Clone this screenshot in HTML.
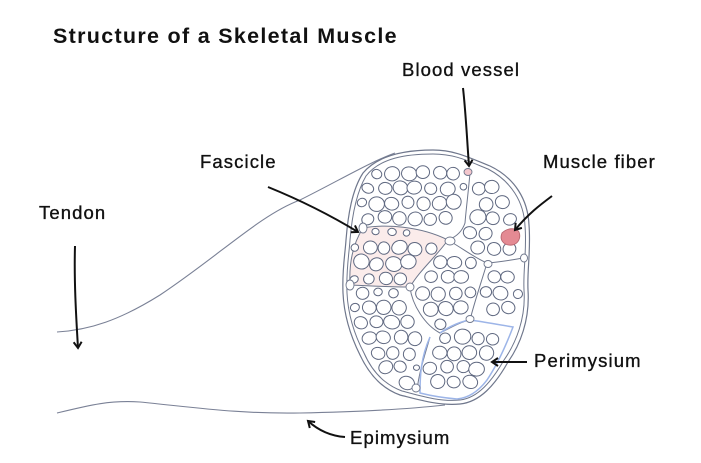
<!DOCTYPE html>
<html><head><meta charset="utf-8"><style>
html,body{margin:0;padding:0;background:#fff;width:701px;height:463px;overflow:hidden}
svg{display:block}
text{font-family:"Liberation Sans",sans-serif;fill:#111}
.l{font-size:18.5px;letter-spacing:1.1px;stroke:#111;stroke-width:0.35px}
</style></head><body>
<svg id="s" width="701" height="463" viewBox="0 0 701 463" xmlns="http://www.w3.org/2000/svg">
<defs>
<marker id="ah" markerWidth="10" markerHeight="10" refX="7" refY="5" orient="auto" markerUnits="userSpaceOnUse">
<path d="M1,1 L7,5 L1,9" fill="none" stroke="#111" stroke-width="2"/>
</marker>
</defs>
<text x="53" y="43" font-size="21.5" font-weight="bold" letter-spacing="1.3">Structure of a Skeletal Muscle</text>
<text class="l" x="402" y="76">Blood vessel</text>
<text class="l" x="200" y="168">Fascicle</text>
<text class="l" x="543" y="168">Muscle fiber</text>
<text class="l" x="39" y="219">Tendon</text>
<text class="l" x="534" y="367">Perimysium</text>
<text class="l" x="350" y="444">Epimysium</text>

<path d="M57,332 C90,330 120,320 160,295 C220,255 260,215 300,200 C340,180 370,162 395,153" fill="none" stroke="#7a8196" stroke-width="1.1"/>
<path d="M57,413 C90,405 110,400 140,402 C200,408 240,414 300,413 C350,412 400,410 445,405" fill="none" stroke="#7a8196" stroke-width="1.1"/>

<g id="mus">
<path id="outer" d="M433,150 C455,150 470,158 490,166 C515,178 528,200 529,225 C531,250 527,270 528,290 C530,320 520,345 508,362 C495,385 480,402 460,404 C440,406 420,400 400,395 C380,388 368,372 360,355 C350,335 344,315 343,293 C342,270 345,255 346,240 C348,215 352,190 363,173 C378,155 405,150 433,150 Z" fill="#fff" stroke="#6f778c" stroke-width="1.2"/>
<path id="inner" d="M433,154 C455,154 468,161 488,169 C511,181 524,202 525,226 C527,250 523,270 524,290 C526,318 516,343 504,360 C492,381 478,398 460,400 C440,402 421,396 402,391 C383,384 371,369 364,353 C354,334 348,314 347,293 C346,270 349,255 350,240 C352,216 356,193 366,176 C380,158 406,154 433,154 Z" fill="none" stroke="#6f778c" stroke-width="1"/>
<path d="M363,228 C385,224 420,226 448,240 C435,258 420,270 410,287 C390,287 370,286 350,285 C349,265 352,245 363,228 Z" fill="#fbeceb" stroke="#6f778c" stroke-width="1"/>
<g fill="none" stroke="#6f778c" stroke-width="1">
<path class="pl" d="M470,173 C468,195 466,210 465,223 C462,232 456,237 448,240"/>
<path class="pl" d="M448,240 C465,250 475,258 487,263 C500,262 512,260 523,258"/>
<path class="pl" d="M487,263 C482,280 475,300 470,320"/>
<path class="pl" d="M410,287 C412,305 425,325 440,333 C450,328 460,322 470,320"/>
<path class="pl" d="M430,337 C425,355 418,375 417,392"/>
</g>
<path class="pl" d="M440,333 C450,326 462,321 470,320 C485,322 500,325 513,327 C505,348 497,365 487,380 C478,392 468,398 457,399 C445,398 432,396 420,393 C420,375 421,357 430,337" fill="none" stroke="#9db5e8" stroke-width="1.5"/>
<path class="pl" d="M363,228 C385,224 420,226 448,240 C435,258 420,270 410,287 C390,287 370,286 350,285" fill="none" stroke="none"/>
<g id="fib"></g>
<g fill="#fff" stroke="#6f778c" stroke-width="0.9">
<ellipse cx="363" cy="228" rx="4" ry="5"/><ellipse cx="350" cy="285" rx="4" ry="5"/>
<ellipse cx="450" cy="241" rx="5" ry="4"/><ellipse cx="410" cy="287" rx="4" ry="4"/>
<ellipse cx="488" cy="264" rx="4" ry="3.5"/><ellipse cx="524" cy="258" rx="3.5" ry="4"/>
<ellipse cx="470" cy="319" rx="4" ry="3.5"/><ellipse cx="416" cy="388" rx="4" ry="4"/>
</g>
<ellipse cx="468" cy="172" rx="4" ry="3.5" fill="#f4c6cc" stroke="#6f778c" stroke-width="0.9"/>
<path d="M502,233 C508,227 517,228 519,232 C521,237 519,244 512,245 C504,246 499,240 502,233 Z" fill="#e48a93" stroke="#b86670" stroke-width="0.9"/>
</g>

<g fill="none" stroke="#111" stroke-width="2" marker-end="url(#ah)">
<path d="M463,88 C466,115 467,140 469,166"/>
<path d="M268,187 C300,200 330,215 358,232"/>
<path d="M552,196 C540,205 528,214 515,230"/>
<path d="M75,246 C74,280 76,315 78,348"/>
<path d="M527,362 L492,362"/>
<path d="M345,437 C330,436 318,430 308,421"/>
</g>
</svg>
<script>
(function(){
var outer=document.getElementById('inner');
var pls=document.querySelectorAll('.pl');
var pts=[];
pls.forEach(function(p){var L=p.getTotalLength();for(var i=0;i<=L;i+=2){var q=p.getPointAtLength(i);pts.push([q.x,q.y]);}});
var oL=outer.getTotalLength();
for(var i=0;i<oL;i+=2){var q=outer.getPointAtLength(i);pts.push([q.x,q.y]);}
var seed=11;function r(){seed=(seed*9301+49297)%233280;return seed/233280;}
var g=document.getElementById('fib');var ns='http://www.w3.org/2000/svg';
var svg=document.getElementById('s');
var placed=[];
var row=0;
for(var y=158;y<404;y+=15){row++;for(var x=346;x<532;x+=15.5){
var cx=x+(r()-0.5)*3+((row%2)?7.5:0),cy=y+(r()-0.5)*3;
var pt=svg.createSVGPoint();pt.x=cx;pt.y=cy;
if(!outer.isPointInFill(pt))continue;
var rad=6.2+r()*1.6,m=1e9;
for(var k=0;k<pts.length;k++){var dx=pts[k][0]-cx,dy=pts[k][1]-cy;var d=dx*dx+dy*dy;if(d<m)m=d;}
m=Math.sqrt(m);
if(m<4.2)continue;
if(rad>m-1.6)rad=m-1.6;
if(rad<3)continue;
if(Math.abs(cx-510)<11&&Math.abs(cy-237)<11)continue;
var rx=rad*(0.92+r()*0.16),ry=rad*(0.85+r()*0.15);
var e=document.createElementNS(ns,'ellipse');
e.setAttribute('cx',cx);e.setAttribute('cy',cy);e.setAttribute('rx',rx);e.setAttribute('ry',ry);
e.setAttribute('transform','rotate('+Math.round((r()-0.5)*60)+' '+cx+' '+cy+')');
e.setAttribute('fill','#fff');e.setAttribute('stroke','#5f6880');e.setAttribute('stroke-width','1');
g.appendChild(e);}}
})();
</script>
</body></html>
